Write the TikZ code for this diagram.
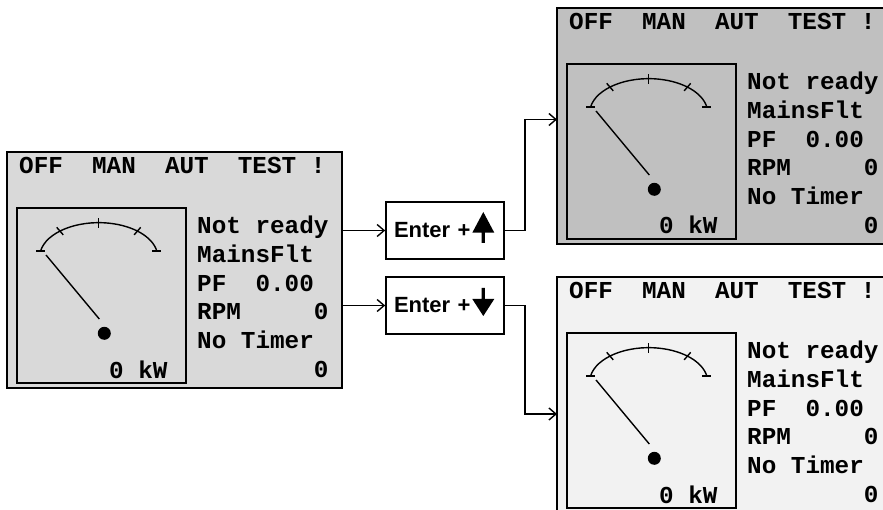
\documentclass[tikz,border=0pt]{standalone}
\usepackage{fontspec}
\usetikzlibrary{arrows.meta}
\newfontfamily\lcdfont{Liberation Mono}
\newfontfamily\keyfont{Liberation Sans}
\definecolor{LcdLight}{HTML}{D9D9D9}
\definecolor{LcdDark}{HTML}{C0C0C0}
\definecolor{LcdPale}{HTML}{F2F2F2}
\tikzset{
  pics/display/.style={code={
    \node[frame, fill=#1] (-frame) at (0,0) {};
    \node[lcd] (-modes) at (12,21.3) {OFF~~MAN~~AUT~~TEST~!};
    \draw[gaugebox] (10,56) rectangle (179,231);
    \draw[dial] (33.6,99) arc[start angle=190, end angle=350, x radius=59, y radius=34.3];
    \foreach \a in {229,270,311}
      \draw[dial] ({91.7+54*cos(\a)},{105+29.3*sin(\a)}) -- ({91.7+64*cos(\a)},{105+39.3*sin(\a)});
    \draw[dial] (29.1,99) -- (38.1,99) (145.3,99) -- (154.3,99);
    \draw[dial] (39,103) -- (92.3,167);
    \fill (97.3,181.3) circle[radius=6.5pt];
    \node[lcd] (-power) at (102,226) {0~kW};
    \foreach \txt [count=\i from 0] in {Not~ready, MainsFlt, PF~~0.00, RPM~~~~~0, No~Timer, ~~~~~~~~0}
      \node[lcd] (-line\i) at (190,{81.5+28.8*\i}) {\txt};
  }}
}
\begin{document}
\begin{tikzpicture}[x=1pt, y=-1pt,
    frame/.style={draw, line width=2.8pt, anchor=north west, minimum width=335pt,
                  minimum height=236pt, inner sep=0pt, outer sep=0pt},
    gaugebox/.style={line width=1.4pt},
    dial/.style={line width=1.4pt},
    lcd/.style={anchor=base west, inner sep=0pt,
                font=\lcdfont\bfseries\fontsize{24.3}{29}\selectfont},
    keybox/.style={draw, line width=1.6pt, minimum height=57pt, text width=102pt,
                   inner xsep=8pt, align=left,
                   font=\keyfont\bfseries\fontsize{22}{26}\selectfont},
    link/.style={line width=1.4pt, -{Straight Barb[length=7pt,width=12pt]}}
  ]
  \useasboundingbox (0,0) rectangle (883,510);
  \clip (0,0) rectangle (883,510);
  \pic (home) at (7,152) {display=LcdLight};
  \pic (upview) at (557,8) {display=LcdDark};
  \pic (downview) at (557,277) {display=LcdPale};
  \node[keybox] (upkey) at (445,230.5) {Enter +};
  \node[keybox] (downkey) at (445,305.5) {Enter +};
  % arrow glyphs on the keys
  \fill[shift={(upkey.center)}] (38.3,-18.5) -- (49.3,2.2) -- (39.9,2.2) -- (39.9,12.5)
    -- (36.7,12.5) -- (36.7,2.2) -- (27.3,2.2) -- cycle;
  \fill[shift={(downkey.center)}] (38.3,10.5) -- (49.3,-6.5) -- (39.9,-6.5) -- (39.9,-17.5)
    -- (36.7,-17.5) -- (36.7,-6.5) -- (27.3,-6.5) -- cycle;
  \draw[link] (upkey.west -| home-frame.east) -- (upkey.west);
  \draw[link] (downkey.west -| home-frame.east) -- (downkey.west);
  \draw[link] (upkey.east) -- ++(20,0) |- ([yshift=6.5pt]upview-frame.west);
  \draw[link] (downkey.east) -- ++(20,0) |- ([yshift=-19pt]downview-frame.west);
\end{tikzpicture}
\end{document}
